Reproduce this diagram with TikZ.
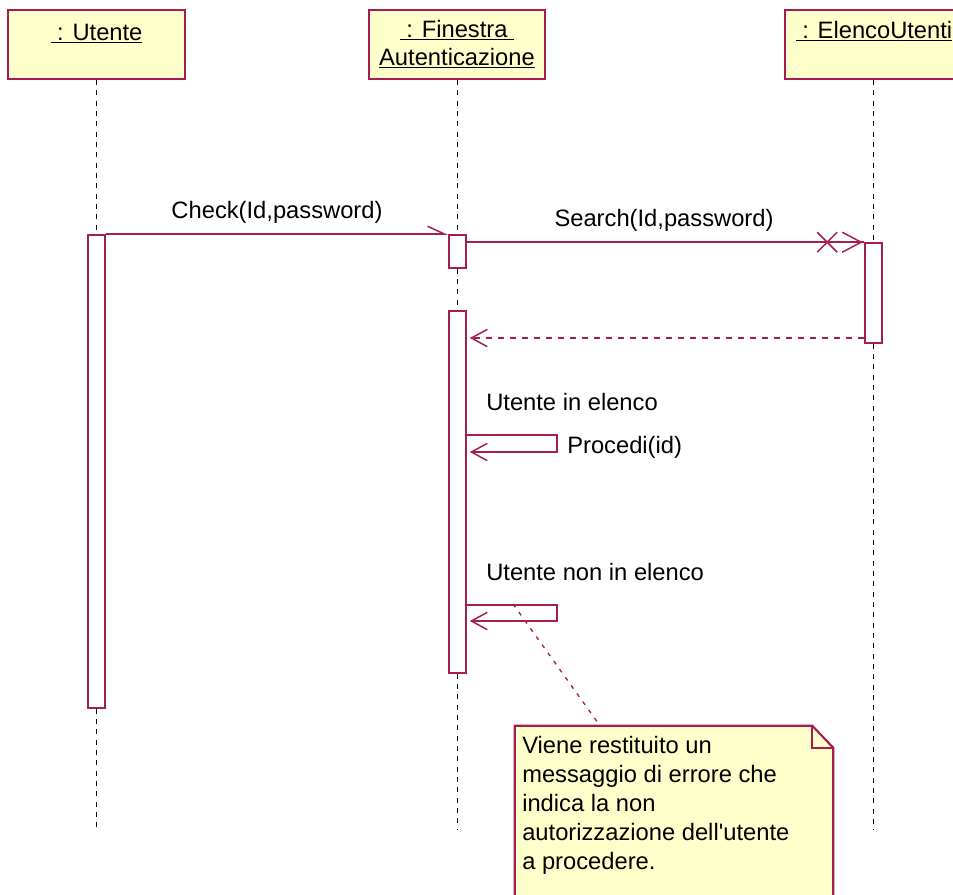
\documentclass[tikz,border=0pt]{standalone}
\usepackage{fontspec}
\setmainfont{Liberation Sans}
\usetikzlibrary{arrows.meta,calc,fit}
\definecolor{umlline}{RGB}{166,30,80}
\definecolor{umlfill}{RGB}{255,255,204}
\tikzset{
  headbox/.style={draw=umlline, fill=umlfill, line width=1.6pt, inner sep=0pt},
  actbox/.style={draw=umlline, fill=white, line width=1.2pt, inner sep=0pt},
  lifeline/.style={draw=black, line width=1.3pt, dash pattern=on 3.75pt off 4pt},
  msg/.style={draw=umlline, line width=1.2pt},
  retmsg/.style={msg, dash pattern=on 5pt off 4pt},
  notelink/.style={msg, line width=1pt, dash pattern=on 3pt off 4.5pt},
  lbl/.style={font=\fontsize{17.8}{21.75}\selectfont, inner sep=0pt, text=black},
  opentip/.style={-{Straight Barb[length=12pt, width=13pt, line width=1.1pt]}},
  halftip/.style={-{Straight Barb[harpoon, length=13pt, width=12pt, line width=1.1pt]}},
}
\begin{document}
\begin{tikzpicture}[x=0.75pt, y=-0.75pt]
  \useasboundingbox (0,0) rectangle (953,894);
  \clip (0,0) rectangle (953,894);
  \fill[white] (0,0) rectangle (953,894);

  % object heads
  \node[headbox, fit={(8,10)(185,79)}] (u) {};
  \node[headbox, fit={(369,10)(545,79)}] (f) {};
  \node[headbox, fit={(785,10)(963,79)}] (e) {};
  \node[lbl, anchor=base] (ut) at (96.5,40) {\underline{\ : Utente}};
  \node[lbl, anchor=base] (ft1) at (457,37) {\underline{\ : Finestra\ }};
  \node[lbl, anchor=base] (ft2) at (457,65) {\underline{Autenticazione}};
  \node[lbl, anchor=base] (et) at (874,38) {\underline{\ : ElencoUtenti}};

  % activation bars
  \node[actbox, fit={(88,235)(105,708)}] (ua) {};
  \node[actbox, fit={(449,235)(466,268)}] (fa1) {};
  \node[actbox, fit={(449,311)(466,673)}] (fa2) {};
  \node[actbox, fit={(865,243)(882,343)}] (ea) {};

  % lifelines
  \coordinate (bottom) at (0,830);
  \draw[lifeline] (u.south) -- (ua.north);
  \draw[lifeline] (ua.south) -- (ua.south |- bottom);
  \draw[lifeline] (fa1.north |- f.south) -- (fa1.north);
  \draw[lifeline] (fa1.south) -- (fa2.north);
  \draw[lifeline] (fa2.south) -- (fa2.south |- bottom);
  \draw[lifeline] (ea.north |- e.south) -- (ea.north);
  \draw[lifeline] (ea.south) -- (ea.south |- bottom);

  % Check(Id,password)
  \draw[msg, halftip] (ua.north east) -- (fa1.north west);
  \node[lbl, anchor=base] (lcheck) at (277,218) {Check(Id,password)};

  % Search(Id,password)
  \draw[msg] (fa1.east |- ea.north) -- (ea.north west);
  \draw[msg, line width=1.1pt]
    ($(ea.north west)+(-22,-10)$) -- ($(ea.north west)+(-3,0)$) -- ($(ea.north west)+(-22,10)$)
    ($(ea.north west)+(-47,-10)$) -- ($(ea.north west)+(-37,0)$) -- ($(ea.north west)+(-47,10)$)
    ($(ea.north west)+(-27,-10)$) -- ($(ea.north west)+(-37,0)$) -- ($(ea.north west)+(-27,10)$);
  \node[lbl, anchor=base] (lsearch) at (664,226) {Search(Id,password)};

  % return
  \coordinate (ret) at (0,338);
  \draw[retmsg, opentip] (ea.west |- ret) -- ($(fa2.east |- ret)+(3,0)$);

  % guard: Utente in elenco
  \node[lbl, anchor=base west] (g1) at (486,410) {Utente in elenco};
  \coordinate (p1) at (557,435);
  \coordinate (p1b) at (557,452);
  \draw[msg, opentip] (fa2.east |- p1) -- (p1) -- (p1b) -- ($(fa2.east |- p1b)+(3,0)$);
  \node[lbl, anchor=base west] (lproc) at (567,453) {Procedi(id)};

  % guard: Utente non in elenco
  \node[lbl, anchor=base west] (g2) at (486,580) {Utente non in elenco};
  \coordinate (p2) at (557,605);
  \coordinate (p2b) at (557,621);
  \draw[msg, opentip] (fa2.east |- p2) -- (p2) -- (p2b) -- ($(fa2.east |- p2b)+(3,0)$);

  % note
  \node[fit={(515,726)(833,910)}, inner sep=0pt] (note) {};
  \fill[umlfill] (note.south west) -- (note.north west) -- ($(note.north east)+(-21,0)$)
    -- ($(note.north east)+(0,22)$) -- (note.south east) -- cycle;
  \draw[umlline, line width=1.6pt] (note.south west) -- (note.north west) -- ($(note.north east)+(-21,0)$)
    -- ($(note.north east)+(0,22)$) -- (note.south east);
  \draw[umlline, line width=1.3pt] ($(note.north east)+(-21,0)$) -- ($(note.north east)+(-21,22)$) -- ($(note.north east)+(0,22)$);
  \node[lbl, anchor=north west, align=left] (ntext) at (522,736)
    {Viene restituito un\\messaggio di errore che\\indica la non\\autorizzazione dell\textquotesingle utente\\a procedere.};
  \coordinate (linkstart) at (513,604);
  \draw[notelink] (linkstart) -- (note.north west -| 600,0);
\end{tikzpicture}
\end{document}
